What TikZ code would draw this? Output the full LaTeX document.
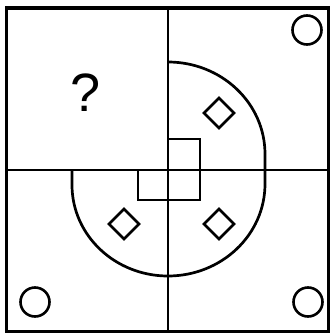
\documentclass[tikz,border=0pt]{standalone}
\usepackage{fontspec}
\setmainfont{Liberation Sans}
\begin{document}
\begin{tikzpicture}[x=1pt,y=-1pt,
  ln/.style={line width=2.7pt,black},
  outer/.style={line width=3.2pt,black},
  dia/.style={line width=2.5pt,black},
  circ/.style={line width=2.6pt,black}]
\useasboundingbox (0,0) rectangle (330,333);
% outer frame
\draw[outer] (6.5,8) rectangle (328.5,331.5);
% cross lines
\draw[ln] (168,8) -- (168,331.5);
\draw[ln] (6.5,170) -- (328.5,170);
% right rounded shape
\draw[ln] (168,62) arc[start angle=90,end angle=0,x radius=97,y radius=-92] -- (265,184)
  arc[start angle=0,end angle=-90,x radius=97,y radius=-92];
% lower-left shape
\draw[ln] (72,170) -- (72,185) arc[start angle=180,end angle=270,x radius=96,y radius=-91];
% small squares
\draw[ln] (168,139) -- (200,139) -- (200,200) -- (138,200) -- (138,170);
% diamonds
\foreach \cx/\cy in {219/113, 219/224, 124/224}
  \draw[dia] (\cx,\cy-15) -- (\cx+15,\cy) -- (\cx,\cy+15) -- (\cx-15,\cy) -- cycle;
% circles
\foreach \cx/\cy in {307/30, 35/302, 308/302}
  \draw[circ] (\cx,\cy) circle (14.5);
% question mark
\node[inner sep=0pt] (q) at (86,93) {\fontsize{54}{54}\selectfont ?};
\end{tikzpicture}
\end{document}
